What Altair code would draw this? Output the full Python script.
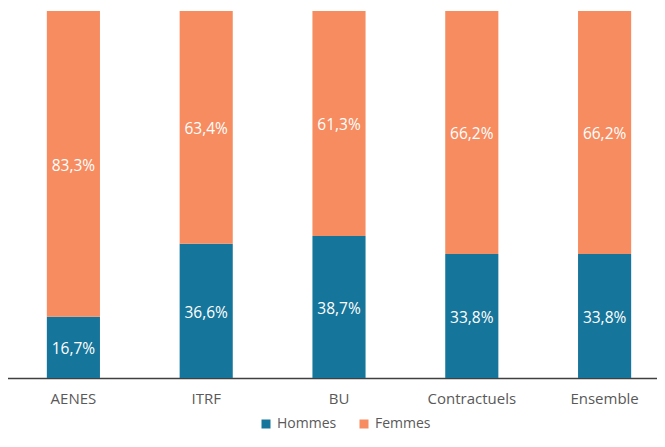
import altair as alt
import pandas as pd

categories = ["AENES", "ITRF", "BU", "Contractuels", "Ensemble"]
hommes = [16.7, 36.6, 38.7, 33.8, 33.8]
femmes = [83.3, 63.4, 61.3, 66.2, 66.2]
series = ["Hommes", "Femmes"]
colors = ["#16759a", "#f68c5f"]

rows = []
for c, h, f in zip(categories, hommes, femmes):
    rows.append({"cat": c, "serie": "Hommes", "ord": 0, "val": h,
                 "lab": f"{h:.1f}%".replace(".", ",")})
    rows.append({"cat": c, "serie": "Femmes", "ord": 1, "val": f,
                 "lab": f"{f:.1f}%".replace(".", ",")})
df = pd.DataFrame(rows)

FONT = "Open Sans"

base = alt.Chart(df).transform_stack(
    stack="val", groupby=["cat"], as_=["y0", "y1"],
    sort=[alt.SortField("ord", order="ascending")]
).transform_calculate(mid="(datum.y0 + datum.y1) / 2")

xenc = alt.X("cat:N", sort=categories, title=None,
             scale=alt.Scale(range=[-1, 663], paddingInner=0.6, paddingOuter=0.3),
             axis=alt.Axis(labelAngle=0, ticks=False, domainColor="#404040",
                           domainWidth=1.5, labelFont=FONT, labelFontSize=15,
                           labelColor="#595959", labelPadding=13, grid=False))

bars = base.mark_bar().encode(
    x=xenc,
    y=alt.Y("y0:Q", scale=alt.Scale(domain=[0, 100], nice=False), axis=None),
    y2="y1:Q",
    color=alt.Color("serie:N", scale=alt.Scale(domain=series, range=colors),
                    legend=alt.Legend(title=None, orient="none", direction="horizontal",
                                      legendX=251, legendY=406, padding=0,
                                      symbolType="square", symbolSize=81,
                                      symbolStrokeWidth=0, labelFont=FONT,
                                      labelFontSize=14, labelColor="#595959",
                                      labelOffset=4, columnPadding=20,
                                      symbolOpacity=1)),
)

text = base.mark_text(color="white", font=FONT, fontSize=15.5, dy=2).encode(
    x=alt.X("cat:N", sort=categories),
    y=alt.Y("mid:Q"),
    text="lab:N",
)

chart = (bars + text).properties(
    width=649, height=367,
    autosize=alt.AutoSizeParams(type="none"),
    padding={"left": 0, "top": 3, "right": 0, "bottom": 57},
).configure_view(stroke=None)

chart.save("out.html", embed_options={"renderer": "svg", "actions": False})
